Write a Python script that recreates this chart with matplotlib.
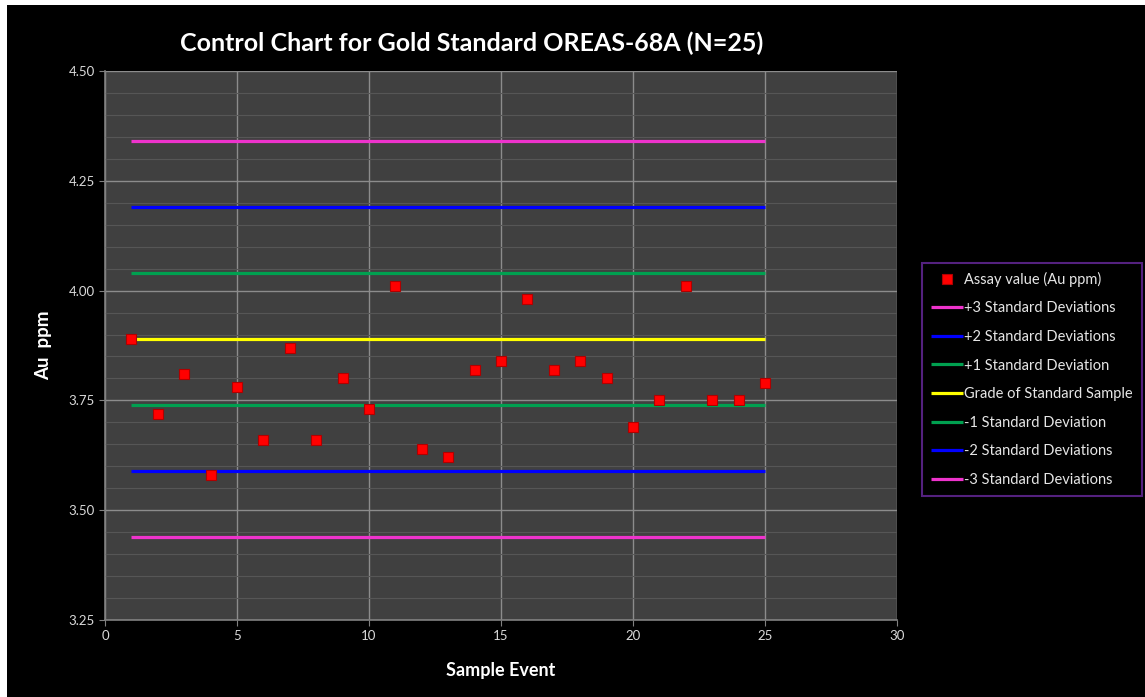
import matplotlib
matplotlib.use("Agg")
import matplotlib.pyplot as plt
from matplotlib.patches import Rectangle
import numpy as np

plt.rcParams['font.family'] = ['Lato', 'DejaVu Sans']

sample_event = list(range(1, 26))
assay_values = [3.89, 3.72, 3.81, 3.58, 3.78, 3.66, 3.87, 3.66, 3.80, 3.73,
                4.01, 3.64, 3.62, 3.82, 3.84, 3.98, 3.82, 3.84, 3.80, 3.69,
                3.75, 4.01, 3.75, 3.75, 3.79]
line_labels = ["+3 Standard Deviations", "+2 Standard Deviations", "+1 Standard Deviation",
               "Grade of Standard Sample", "-1 Standard Deviation", "-2 Standard Deviations",
               "-3 Standard Deviations"]
line_levels = [4.34, 4.19, 4.04, 3.89, 3.74, 3.59, 3.44]
line_colors = ["#ee33cc", "#0000ff", "#00a050", "#ffff00", "#00a050", "#0000ff", "#ee33cc"]
x_line = [1, 25]

fig = plt.figure(figsize=(11.45, 6.97), dpi=100)
fig.patch.set_facecolor("white")
fig.add_artist(Rectangle((7/1145, 0), 1 - 7/1145, 1 - 5/697, transform=fig.transFigure,
                         facecolor="black", edgecolor="none", zorder=0))

ax = fig.add_axes([105/1145, 1 - 620/697, (897 - 105)/1145, (620 - 71)/697])
ax.set_facecolor("#404040")

ax.set_xlim(0, 30)
ax.set_ylim(3.25, 4.50)
ax.set_xticks(np.arange(0, 31, 5))
ax.set_yticks(np.arange(3.25, 4.51, 0.25))
ax.set_yticks(np.arange(3.25, 4.50, 0.05), minor=True)
ax.set_yticklabels([f"{v:.2f}" for v in np.arange(3.25, 4.51, 0.25)])
ax.grid(True, which="major", color="#8c8c8c", linewidth=1.0)
ax.grid(True, which="minor", axis="y", color="#565656", linewidth=0.8)
ax.set_axisbelow(True)

for lab, lev, col in zip(line_labels, line_levels, line_colors):
    ax.plot(x_line, [lev, lev], color=col, linewidth=2.3, label=lab, zorder=2,
            solid_capstyle="butt")

ax.plot(sample_event, assay_values, linestyle="none", marker="s", markersize=7,
        markerfacecolor="#ff0000", markeredgecolor="#b00000", markeredgewidth=0.8,
        label="Assay value (Au ppm)", zorder=3)

for s in ["top", "right"]:
    ax.spines[s].set_visible(False)
for s in ["left", "bottom"]:
    ax.spines[s].set_color("#808080")
    ax.spines[s].set_linewidth(1.2)
ax.tick_params(axis="both", colors="#808080", labelcolor="#d9d9d9", labelsize=9.5,
               length=4)
ax.tick_params(axis="y", which="minor", length=0)

fig.text(472/1145, 1 - 43/697, "Control Chart for Gold Standard OREAS-68A (N=25)",
         color="white", fontsize=18, fontweight="bold", ha="center", va="center")
ax.set_xlabel("Sample Event", color="white", fontsize=13, fontweight="bold", labelpad=14)
ax.set_ylabel("Au  ppm", color="white", fontsize=13.5, fontweight="bold", labelpad=12)

handles, labels = ax.get_legend_handles_labels()
order = [7, 0, 1, 2, 3, 4, 5, 6]
leg = fig.legend([handles[i] for i in order], [labels[i] for i in order],
                 loc="upper left", bbox_to_anchor=(922/1145, 1 - 263/697),
                 borderaxespad=0, frameon=True, fontsize=10.5, labelcolor="#e6e6e6",
                 handlelength=2.2, handletextpad=0.1, borderpad=0.6,
                 labelspacing=1.0, fancybox=False)
leg.get_frame().set_facecolor("black")
leg.get_frame().set_edgecolor("#6a2aa0")
leg.get_frame().set_linewidth(1.5)

fig.savefig("out.png", dpi=100, facecolor=fig.get_facecolor())
